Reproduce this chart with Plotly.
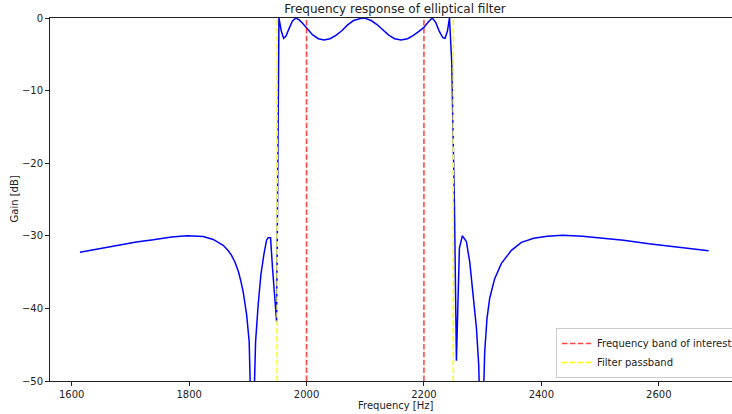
import plotly.graph_objects as go

# Frequency response of the elliptical band-pass filter
freq_hz = [
    1614, 1650, 1682, 1710, 1739, 1770, 1796, 1810, 1824, 1841, 1850, 1858,
    1866, 1872, 1878, 1884, 1888, 1892, 1898, 1902.3, 1907.5, 1913.2, 1917.6,
    1922.2, 1927.3, 1931.9, 1934.6, 1938.7, 1942.1, 1946, 1949,
    1953, 1957, 1961, 1965, 1970, 1976, 1982, 1988, 1994, 2000, 2010, 2020,
    2030, 2040, 2050, 2060, 2070, 2080, 2090, 2095, 2100, 2110, 2120, 2130,
    2140, 2150, 2161, 2172, 2182, 2192, 2200, 2207, 2214, 2220, 2226, 2232,
    2236, 2240, 2243.5, 2247.4, 2249.7, 2252, 2255.3,
    2260.4, 2265.5, 2272.3, 2278, 2283.6, 2289.4, 2293.3, 2298, 2303.5,
    2307.4, 2312, 2320.5, 2332, 2349, 2366, 2387, 2410, 2436, 2470, 2498,
    2540, 2583, 2630, 2685,
]
gain_db = [
    -32.27, -31.75, -31.27, -30.85, -30.55, -30.15, -29.98, -30.0, -30.1,
    -30.5, -30.9, -31.3, -32.0, -32.65, -33.6, -34.95, -36.2, -37.7, -40.9,
    -44.6, -62.0, -44.6, -39.5, -35.4, -32.6, -30.6, -30.26, -30.26, -34.5,
    -38.6, -41.8,
    0.0, -1.8, -2.8, -2.5, -1.5, -0.4, 0.0, -0.3, -0.8, -1.4, -2.3, -2.85,
    -3.03, -2.85, -2.4, -1.75, -0.95, -0.35, -0.05, 0.0, -0.05, -0.35, -0.9,
    -1.65, -2.35, -2.85, -3.03, -2.85, -2.4, -1.8, -1.3, -0.6, 0.0, -0.6,
    -1.8, -2.7, -2.8, -1.8, 0.0, -6.2, -15.9, -26.0, -47.2,
    -31.7, -30.0, -30.8, -33.6, -37.7, -42.7, -47.8, -62.0, -46.0, -41.4,
    -38.6, -35.9, -33.8, -32.0, -30.9, -30.35, -30.05, -29.93, -30.05,
    -30.25, -30.6, -31.1, -31.55, -32.05,
]

band_of_interest = [2000, 2200]
filter_passband = [1950, 2250]
y_limits = [-50, 0]
x_limits = [1563, 2743.5]
x_ticks = [1600, 1800, 2000, 2200, 2400, 2600]
y_ticks = [0, -10, -20, -30, -40, -50]

def vlines(xs, ylim):
    xx, yy = [], []
    for x in xs:
        xx += [x, x, None]
        yy += [ylim[0], ylim[1], None]
    return xx, yy

FONT = "DejaVu Sans, Verdana, sans-serif"
TXT = "#222222"

fig = go.Figure()
fig.add_trace(go.Scatter(
    x=freq_hz, y=gain_db, mode="lines", showlegend=False,
    line=dict(color="#0000ff", width=1.5), hoverinfo="skip"))
rx, ry = vlines(band_of_interest, y_limits)
fig.add_trace(go.Scatter(
    x=rx, y=ry, mode="lines", name="Frequency band of interest",
    line=dict(color="rgba(255,0,0,0.72)", width=1.6, dash="5.5px,2.4px")))
yx, yy = vlines(filter_passband, y_limits)
fig.add_trace(go.Scatter(
    x=yx, y=yy, mode="lines", name="Filter passband",
    line=dict(color="#ffff00", width=1.6, dash="5.5px,2.4px")))

# The original figure is wider than the 732 px window: the axes end at ~743 px
W, H = 746, 414
L, R, T, B = 50, 3, 18, 33
pw, ph = W - L - R, H - T - B

fig.update_layout(
    width=W, height=H,
    margin=dict(l=L, r=R, t=T, b=B, pad=0),
    paper_bgcolor="white", plot_bgcolor="white",
    font=dict(family=FONT, size=10, color=TXT),
    title=dict(text="Frequency response of elliptical filter",
               font=dict(size=12, color=TXT, family=FONT),
               x=395 / W, xref="container", xanchor="center",
               y=1 - 9 / H, yref="container", yanchor="middle"),
    showlegend=True,
    legend=dict(x=(738 - L) / pw, y=(381 - 378) / ph, xanchor="right",
                yanchor="bottom", bgcolor="rgba(255,255,255,0.8)",
                bordercolor="#cccccc", borderwidth=1,
                font=dict(size=10, color=TXT, family=FONT),
                tracegroupgap=0, itemwidth=30),
    xaxis=dict(range=x_limits, tickvals=x_ticks, showgrid=False,
               zeroline=False, showline=True, linecolor="#222",
               linewidth=0.9, mirror=True, ticks="outside", ticklen=4,
               tickwidth=0.9, tickcolor="#222", automargin=False,
               tickfont=dict(size=10, color=TXT, family=FONT)),
    yaxis=dict(range=y_limits, tickvals=y_ticks, showgrid=False,
               zeroline=False, showline=True, linecolor="#222",
               linewidth=0.9, ticks="outside", ticklen=4, tickwidth=0.9,
               tickcolor="#222", automargin=False,
               tickfont=dict(size=10, color=TXT, family=FONT)),
    annotations=[
        dict(text="Frequency [Hz]", xref="paper", yref="paper",
             x=(396 - L) / pw, y=-(405 - 381) / ph, xanchor="center",
             yanchor="middle", showarrow=False,
             font=dict(size=10, color=TXT, family=FONT)),
        dict(text="Gain [dB]", xref="paper", yref="paper",
             x=(14 - L) / pw, y=0.5, xanchor="center", yanchor="middle",
             textangle=-90, showarrow=False,
             font=dict(size=10, color=TXT, family=FONT)),
    ],
)

fig.write_html(
    "out.html",
    config={"displayModeBar": False},
    post_script="document.body.style.margin='0';"
                "document.body.style.overflow='hidden';"
                "document.documentElement.style.overflow='hidden';",
)
